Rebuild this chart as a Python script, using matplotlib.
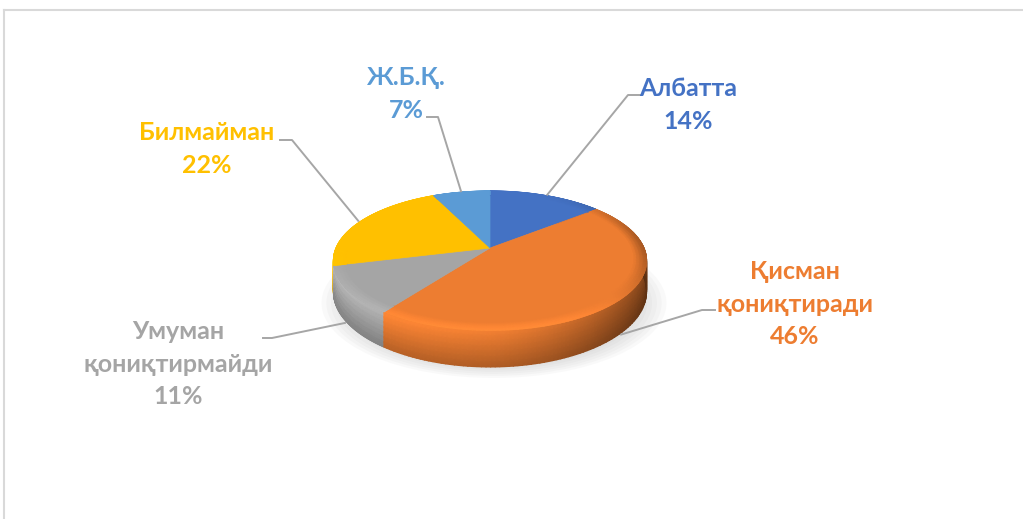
"""
3D-style pie chart (Excel look): survey answers with leader-line labels.
"""
import numpy as np
import matplotlib
matplotlib.use("Agg")
import matplotlib.pyplot as plt
from matplotlib.colors import to_rgb, ListedColormap
from matplotlib.patches import Polygon, Ellipse

# DATA
CATEGORIES = ["Албатта", "Қисман\nқониқтиради", "Умуман\nқониқтирмайди",
              "Билмайман", "Ж.Б.Қ."]
SHARES = [14, 46, 11, 22, 7]
COLORS = ["#4472C4", "#ED7D31", "#A5A5A5", "#FFC000", "#5B9BD5"]

# label block centres and leader elbows (pixel space)
LABEL_XY = [(688, 105), (795, 304), (178, 364), (207, 149), (406, 94)]
LEADER_ELBOW = [(628, 95), (702, 310), (272, 338), (292, 140), (438, 117)]
LEADER_END = [(640, 95), (715, 310), (263, 338), (280, 140), (427, 117)]

# pie geometry in pixels
W, H = 1023, 519
CX, CY = 490, 248
RX, RY = 154, 67.4
PERSP, TILT_COS = 4.97, 0.903
DEPTH = 30
LINE_H = 32.5
LEADER_C = "#A6A6A6"
K_LO, K_HI = 0.35, 1.2

plt.rcParams["font.family"] = ["Lato", "Roboto", "DejaVu Sans"]


def project(phi, r=1.0, drop=0.0):
    x3 = r * np.sin(phi)
    z3 = r * np.cos(phi)
    s = PERSP / (PERSP + z3 * TILT_COS)
    return CX + RX * x3 * s, CY - RY * z3 * s + drop * s


def side_shade(phi, t):
    nx = np.sin(phi)
    g = 0.92 - 0.1 * nx - 0.34 * np.clip(nx, 0, None) ** 1.5
    return g * (1.12 - 0.32 * t)


def rim_shade(phi, u):
    # u: 0 inside the bevel ring, 1 at the rim
    front = np.clip(-np.cos(phi), 0, None)
    right = np.clip(np.sin(phi), 0, None)
    return 1.0 + u * (0.12 * front - 0.3 * right ** 4)


def shaded(color, k):
    return tuple(np.clip(np.array(to_rgb(color)) * k, 0, 1))


def shade_cmap(color):
    ks = np.linspace(K_LO, K_HI, 256)
    return ListedColormap([shaded(color, k) for k in ks])


def main():
    fig = plt.figure(figsize=(W / 100, H / 100), dpi=100)
    ax = fig.add_axes([0, 0, 1, 1])
    ax.set_xlim(0, W)
    ax.set_ylim(H, 0)
    ax.axis("off")

    # chart frame (top and left edges visible)
    ax.plot([3.5, W], [9.5, 9.5], color="#D9D9D9", lw=1.5, zorder=1)
    ax.plot([3.5, 3.5], [9.5, H], color="#D9D9D9", lw=1.5, zorder=1)

    # soft shadow under the pie
    for k in np.linspace(1.0, 0.86, 6):
        ax.add_patch(Ellipse((494, 303), 345 * k, 150 * k, color="#808080",
                             alpha=0.045, lw=0, zorder=2))

    total = sum(SHARES)
    bounds = np.concatenate([[0], np.cumsum(SHARES)]) / total * 2 * np.pi

    # side walls: far slices first, each as a smooth gouraud mesh
    order = sorted(range(len(SHARES)),
                   key=lambda i: -np.cos(0.5 * (bounds[i] + bounds[i + 1])))
    ts = np.linspace(0, 1, 8)
    for i in order:
        phis = np.linspace(bounds[i], bounds[i + 1], 120)
        if np.cos(phis[0]) < np.cos(phis[-1]):
            phis = phis[::-1]
        P, T = np.meshgrid(phis, ts)
        X, Y = project(P, drop=DEPTH * T)
        ax.pcolormesh(X, Y, side_shade(P, T), shading="gouraud",
                      cmap=shade_cmap(COLORS[i]), vmin=K_LO, vmax=K_HI,
                      zorder=3)

    # top faces
    for i in range(len(SHARES)):
        phis = np.linspace(bounds[i], bounds[i + 1], 120)
        pts = [(CX, CY)] + [project(p) for p in phis]
        ax.add_patch(Polygon(pts, closed=True, fc=COLORS[i], ec=COLORS[i],
                             lw=0.5, zorder=4))
        # bevel ring along the rim
        rs = np.linspace(0.92, 1.0, 5)
        P, R = np.meshgrid(phis, rs)
        X, Y = project(P, r=R)
        ax.pcolormesh(X, Y, rim_shade(P, (R - 0.92) / 0.08),
                      shading="gouraud", cmap=shade_cmap(COLORS[i]),
                      vmin=K_LO, vmax=K_HI, zorder=5)

    # leader lines + labels
    for i, (cat, val) in enumerate(zip(CATEGORIES, SHARES)):
        mid = 0.5 * (bounds[i] + bounds[i + 1])
        front = np.cos(mid) < 0
        px, py = project(mid, r=1.02, drop=DEPTH * 0.95 if front else 0)
        ex, ey = LEADER_ELBOW[i]
        lx, ly = LEADER_END[i]
        ax.plot([px, ex, lx], [py, ey, ly], color=LEADER_C, lw=1.4, zorder=6)

        lines = cat.split("\n") + [f"{val}%"]
        cx, cy = LABEL_XY[i]
        n = len(lines)
        for j, line in enumerate(lines):
            ax.text(cx, cy + (j - (n - 1) / 2) * LINE_H, line, ha="center",
                    va="center", color=COLORS[i], fontsize=18,
                    fontweight="bold", zorder=7)

    fig.savefig("out.png", dpi=100)


if __name__ == "__main__":
    main()
